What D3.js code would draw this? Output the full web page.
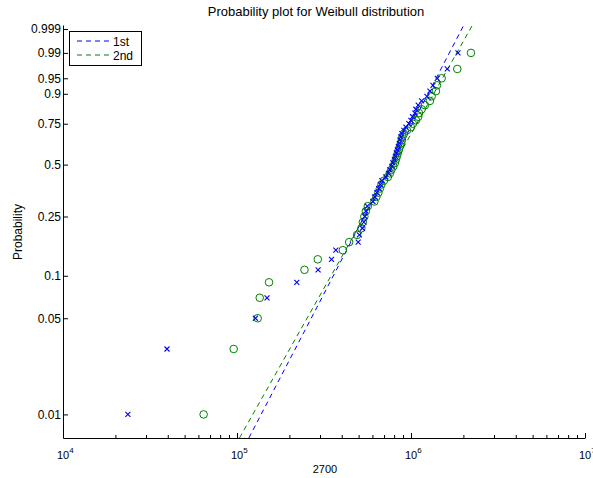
<!DOCTYPE html>
<html>
<head>
<meta charset="utf-8">
<script src="https://cdn.jsdelivr.net/npm/d3@7"></script>
<style>
  body { margin: 0; background: #fff; }
  svg text { font-family: "Liberation Sans", Arial, Helvetica, sans-serif; fill: #000; }
</style>
</head>
<body>
<div class="chart"></div>
<script>
// sorted sample values for each series
const first = [23600, 39600, 127600, 148800, 220600, 292500, 349300, 369800, 496900, 504900,
  525400, 535800, 543000, 550200, 561200, 603700, 619900, 636500, 653600, 666700,
  680100, 717200, 741300, 756100, 776400, 786800, 802600, 813200, 824100, 835000,
  846300, 857600, 863300, 874900, 886500, 910300, 934700, 972500, 998600, 1021000,
  1053000, 1067000, 1100000, 1151000, 1235000, 1285000, 1337000, 1415000, 1616000, 1862000]
const second = [64300, 95700, 131500, 135100, 152800, 244200, 291300, 405700, 441100, 490300,
  518400, 528800, 539400, 550200, 564900, 615800, 632200, 649200, 662300, 675700,
  698500, 736500, 756100, 771300, 792000, 807900, 818700, 829700, 840600, 851900,
  863300, 874900, 886500, 892400, 910300, 947100, 998600, 1025000, 1067000, 1100000,
  1111000, 1151000, 1202000, 1285000, 1314000, 1391000, 1409000, 1500000, 1845000, 2211000]

const seriesNames = ["1st", "2nd"]
const seriesColors = ["#0000ff", "#008000"]
// fitted weibull lines (scale, shape)
const fitScale = [893000, 935000]
const fitShape = [2.46, 2.27]

const probTicks = [0.01, 0.05, 0.1, 0.25, 0.5, 0.75, 0.9, 0.95, 0.99, 0.999]
const xDecades = [1e4, 1e5, 1e6, 1e7]

const width = 593, height = 478

var weib = p => Math.log(-Math.log(1 - p))

var svg = d3.select(".chart").append("svg")
  .attr("width", width)
  .attr("height", height)

var x = d3.scaleLog().domain([1e4, 1e7]).range([63, 585])
var y = d3.scaleLinear().domain([-5, 2]).range([438, 25])

svg.append("clipPath").attr("id", "clip")
  .append("rect").attr("x", 63).attr("y", 25).attr("width", 522).attr("height", 413)

// title and labels
svg.append("text")
  .attr("x", 316).attr("y", 16)
  .attr("text-anchor", "middle")
  .style("font-size", "13px")
  .text("Probability plot for Weibull distribution")

svg.append("text")
  .attr("x", 325).attr("y", 473)
  .attr("text-anchor", "middle")
  .style("font-size", "11px")
  .text("2700")

svg.append("text")
  .attr("transform", "translate(22,232) rotate(-90)")
  .attr("text-anchor", "middle")
  .style("font-size", "12px")
  .text("Probability")

// y axis
var yAxis = svg.append("g")
  .attr("transform", "translate(63,0)")
  .call(d3.axisLeft(y)
    .tickValues(probTicks.map(weib))
    .tickFormat((d, i) => String(probTicks[i]))
    .tickSizeInner(-5).tickSizeOuter(0).tickPadding(2))
yAxis.selectAll("text").style("font-size", "12px").style("font-family", null)

// x axis, minor ticks at 2..9 of each decade
var xTicks = []
xDecades.forEach((d, j) => {
  if (j < xDecades.length - 1) {
    for (var m = 1; m < 10; m++) xTicks.push(d * m)
  } else xTicks.push(d)
})

var xAxis = svg.append("g")
  .attr("transform", "translate(0,438)")
  .call(d3.axisBottom(x)
    .tickValues(xTicks)
    .tickFormat("")
    .tickSizeInner(-3).tickSizeOuter(0))
xAxis.selectAll(".tick line")
  .attr("y2", d => xDecades.includes(d) ? -5 : -3)
xAxis.selectAll(".tick text").remove()

xDecades.forEach(d => {
  var t = svg.append("text")
    .attr("x", x(d) - 6).attr("y", 459)
    .style("font-size", "11px")
  t.append("tspan").text("10")
  t.append("tspan").attr("dy", -6).style("font-size", "8px").text(Math.round(Math.log10(d)))
})

svg.selectAll(".domain").attr("stroke", "#000")
svg.selectAll(".tick line").attr("stroke", "#000")

// fit lines
var plot = svg.append("g").attr("clip-path", "url(#clip)")
var lineW = [-5, 2]
fitScale.forEach((lam, i) => {
  var pts = lineW.map(w => [x(lam * Math.exp(w / fitShape[i])), y(w)])
  plot.append("path")
    .attr("d", d3.line()(pts))
    .attr("fill", "none")
    .attr("stroke", seriesColors[i])
    .attr("stroke-width", 1)
    .attr("stroke-dasharray", "5,4")
})

// points: plotting positions (i - 0.5) / n
var pos = (d, i, arr) => weib((i + 0.5) / arr.length)

plot.append("g").selectAll("circle")
  .data(second)
  .enter()
  .append("circle")
  .attr("cx", d => x(d))
  .attr("cy", (d, i) => y(pos(d, i, second)))
  .attr("r", 3.8)
  .attr("fill", "none")
  .attr("stroke", seriesColors[1])
  .attr("stroke-width", 1)

plot.append("g").selectAll("path")
  .data(first)
  .enter()
  .append("path")
  .attr("transform", (d, i) => `translate(${x(d)},${y(pos(d, i, first))})`)
  .attr("d", "M-2.5,-2.5L2.5,2.5M-2.5,2.5L2.5,-2.5")
  .attr("fill", "none")
  .attr("stroke", seriesColors[0])
  .attr("stroke-width", 1.1)

// legend
var legend = svg.append("g")
legend.append("rect")
  .attr("x", 69.5).attr("y", 31.5)
  .attr("width", 72).attr("height", 34)
  .attr("fill", "#fff").attr("stroke", "#000")

seriesNames.forEach((name, i) => {
  var ly = 41 + i * 14
  legend.append("line")
    .attr("x1", 77).attr("x2", 111)
    .attr("y1", ly).attr("y2", ly)
    .attr("stroke", seriesColors[i])
    .attr("stroke-dasharray", "5,4")
  legend.append("text")
    .attr("x", 113).attr("y", ly + 4.5)
    .style("font-size", "12px")
    .text(name)
})
</script>
</body>
</html>
